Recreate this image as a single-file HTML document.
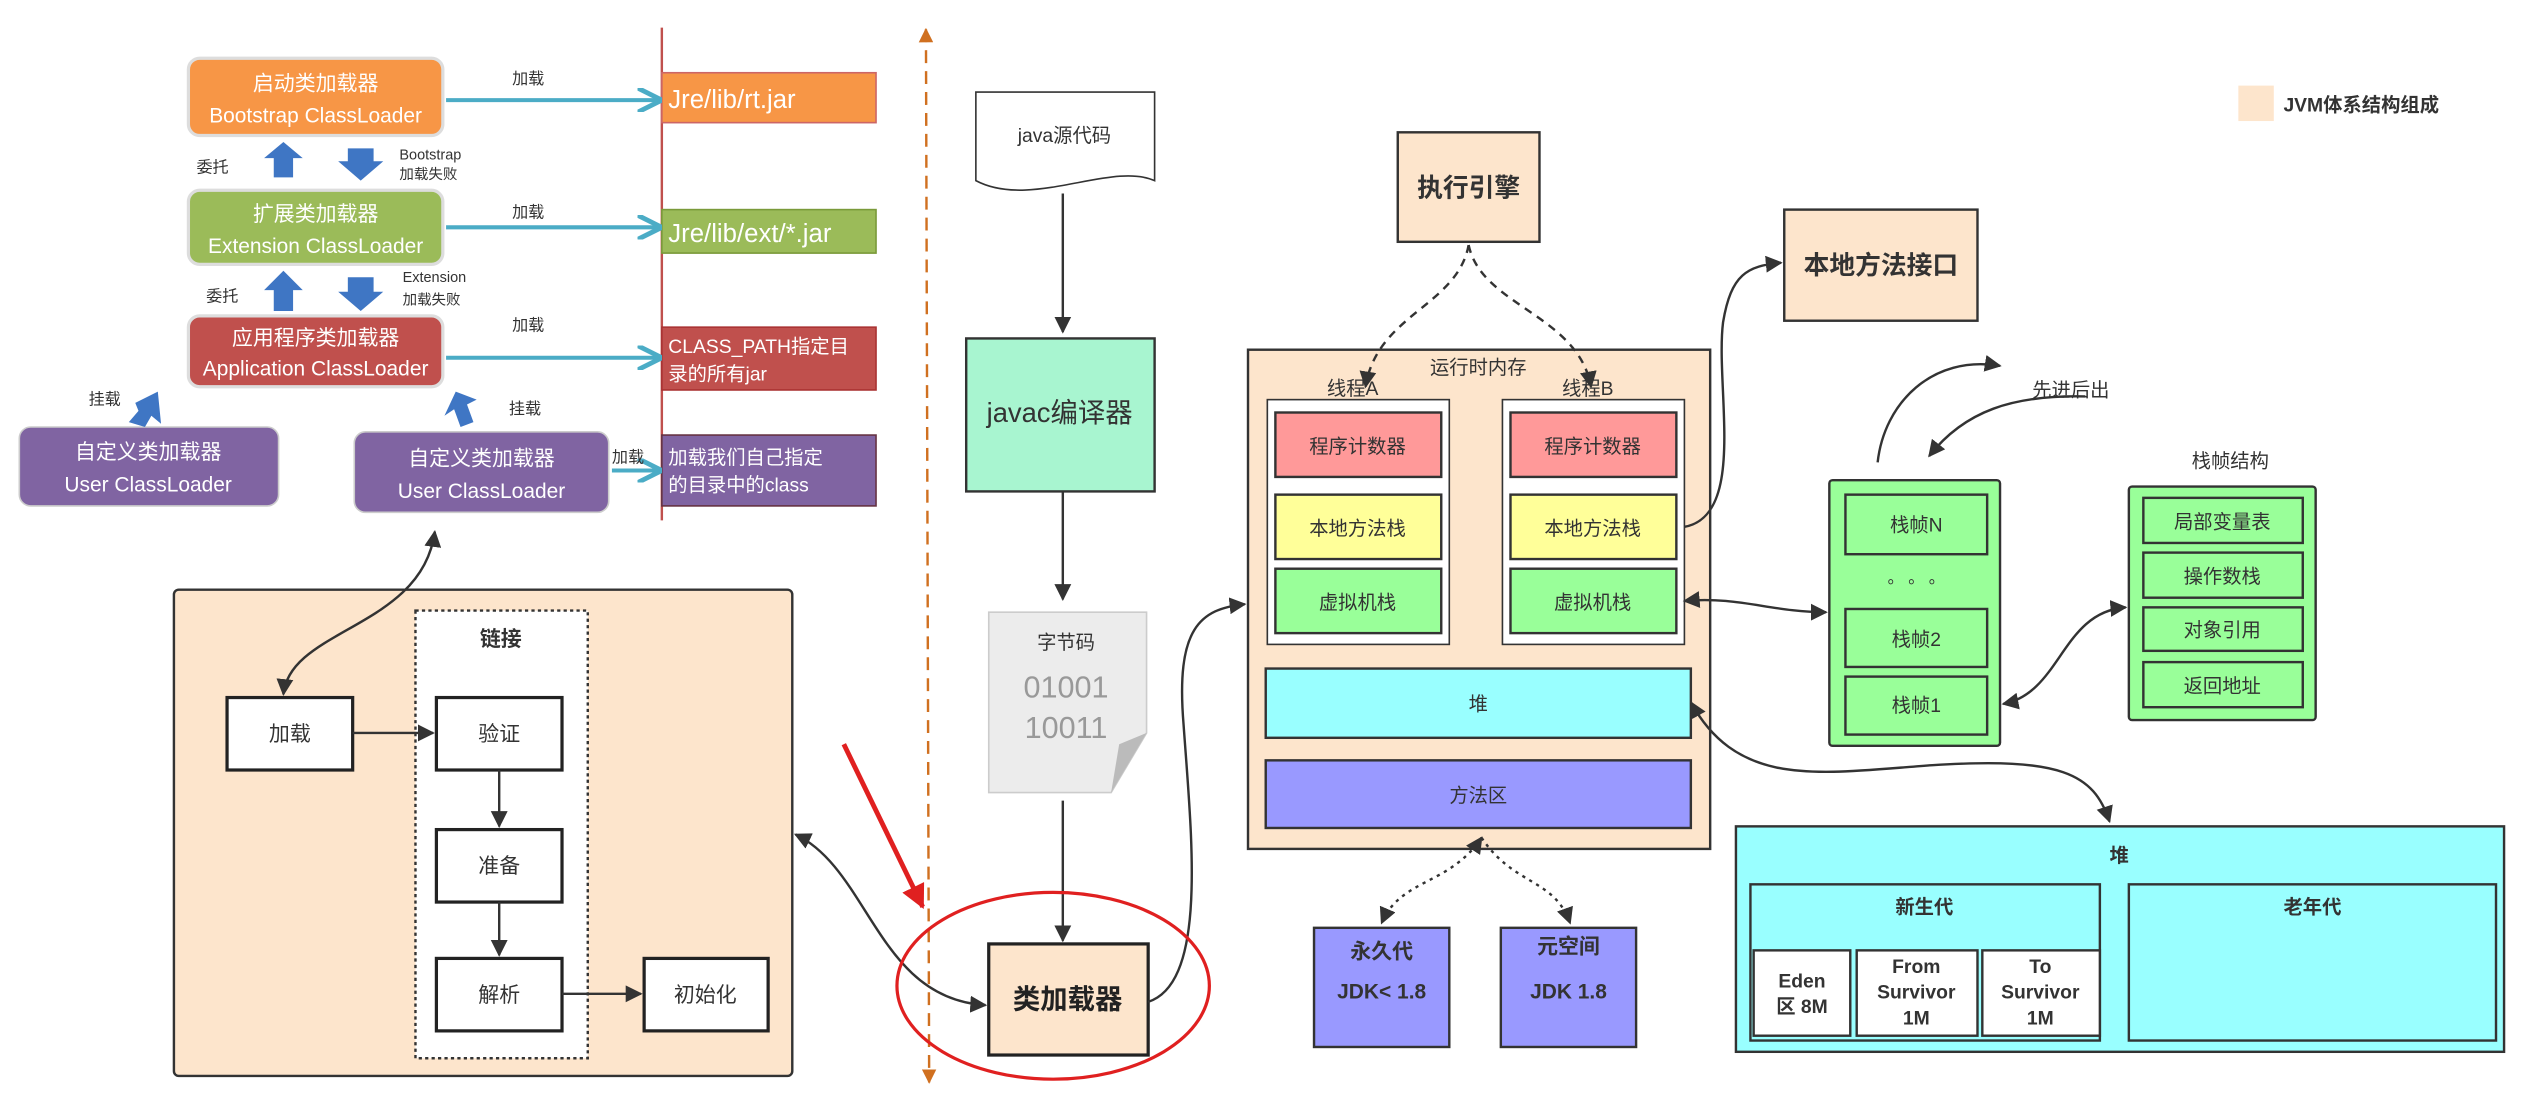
<!DOCTYPE html>
<html><head><meta charset="utf-8"><style>
html,body{margin:0;padding:0;background:#fff;}
svg{display:block;}
text{font-family:"Liberation Sans","Noto Sans CJK SC",sans-serif;}
</style></head><body>
<svg width="2525" height="1102" viewBox="0 0 1568 684" xmlns="http://www.w3.org/2000/svg">
<defs>
<marker id="ar" viewBox="0 0 10 10" refX="9" refY="5" markerWidth="7" markerHeight="7" orient="auto-start-reverse"><path d="M0,0 L10,5 L0,10 z" fill="#333"/></marker>
<marker id="ab" viewBox="0 0 10 10" refX="8" refY="5" markerWidth="6" markerHeight="6" orient="auto"><path d="M0,0 L10,5 L0,10" fill="none" stroke="#4BACC6" stroke-width="2"/></marker>
<marker id="ao" viewBox="0 0 10 10" refX="9" refY="5" markerWidth="6" markerHeight="6" orient="auto-start-reverse"><path d="M0,0 L10,5 L0,10 z" fill="#D07020"/></marker>
<marker id="arr" viewBox="0 0 10 10" refX="9" refY="5" markerWidth="5" markerHeight="5" orient="auto"><path d="M0,0 L10,5 L0,10 z" fill="#E02020"/></marker>
</defs>
<rect width="1568" height="684" fill="#fff"/>

<!-- Top-left classloader -->
<line x1="411" y1="17" x2="411" y2="323" stroke="#C0504D" stroke-width="1.5"/>
<g font-size="13" fill="#fff" text-anchor="middle">
<rect x="117" y="36" width="158" height="48" rx="7" fill="#F79646" stroke="#ddd" stroke-width="2"/>
<text x="196" y="56">启动类加载器</text><text x="196" y="76">Bootstrap ClassLoader</text>
<rect x="117" y="118" width="158" height="46" rx="7" fill="#9BBB59" stroke="#ddd" stroke-width="2"/>
<text x="196" y="137">扩展类加载器</text><text x="196" y="157">Extension ClassLoader</text>
<rect x="117" y="196" width="158" height="44" rx="7" fill="#C0504D" stroke="#ddd" stroke-width="2"/>
<text x="196" y="214">应用程序类加载器</text><text x="196" y="233">Application ClassLoader</text>
<rect x="12" y="265" width="161" height="49" rx="7" fill="#8064A2" stroke="#ccc" stroke-width="1"/>
<text x="92" y="285">自定义类加载器</text><text x="92" y="305">User ClassLoader</text>
<rect x="220" y="268" width="158" height="50" rx="7" fill="#8064A2" stroke="#ccc" stroke-width="1"/>
<text x="299" y="289">自定义类加载器</text><text x="299" y="309">User ClassLoader</text>
</g>
<g font-size="14" fill="#fff">
<rect x="411" y="45" width="133" height="31" fill="#F79646" stroke="#c66" stroke-width="1"/>
<text x="415" y="67" font-size="16">Jre/lib/rt.jar</text>
<rect x="411" y="130" width="133" height="27" fill="#9BBB59" stroke="#7a9a3a"/>
<text x="415" y="150" font-size="16">Jre/lib/ext/*.jar</text>
<rect x="411" y="203" width="133" height="39" fill="#C0504D" stroke="#a33"/>
<text x="415" y="219" font-size="12">CLASS_PATH指定目</text><text x="415" y="236" font-size="12">录的所有jar</text>
<rect x="411" y="270" width="133" height="44" fill="#8064A2" stroke="#634"/>
<text x="415" y="288" font-size="12">加载我们自己指定</text><text x="415" y="305" font-size="12">的目录中的class</text>
</g>
<g stroke="#4BACC6" stroke-width="2.5" fill="none" marker-end="url(#ab)">
<line x1="277" y1="62" x2="408" y2="62"/><line x1="277" y1="141" x2="408" y2="141"/>
<line x1="277" y1="222" x2="408" y2="222"/><line x1="380" y1="292" x2="408" y2="292"/>
</g>
<g font-size="10" fill="#333">
<text x="318" y="52">加载</text><text x="318" y="135">加载</text><text x="318" y="205">加载</text><text x="380" y="287">加载</text>
<text x="122" y="107">委托</text><text x="128" y="187">委托</text>
<text x="248" y="99" font-size="9">Bootstrap</text><text x="248" y="111" font-size="9">加载失败</text>
<text x="250" y="175" font-size="9">Extension</text><text x="250" y="189" font-size="9">加载失败</text>
<text x="55" y="251">挂载</text><text x="316" y="257">挂载</text>
</g>
<g fill="#3F76C4">
<path d="M164,98 L176,88 L188,98 L182,98 L182,110 L170,110 L170,98z"/>
<path d="M216,92 L232,92 L232,100 L238,100 L224,112 L210,100 L216,100z"/>
<path d="M164,180 L176,168 L188,180 L182,180 L182,193 L170,193 L170,180z"/>
<path d="M216,172 L232,172 L232,181 L238,181 L224,193 L210,181 L216,181z"/>
<path d="M84,250 L98,243 L100,263 L94,258 L90,265 L80,262 L86,255z"/>
<path d="M283,243 L296,248 L290,251 L294,262 L286,265 L282,254 L276,258z"/>
</g>

<!-- orange dashed -->
<line x1="575" y1="18" x2="577" y2="672" stroke="#D07020" stroke-width="1.5" stroke-dasharray="8,5" marker-start="url(#ao)" marker-end="url(#ao)"/>

<!-- bottom-left -->
<rect x="108" y="366" width="384" height="302" rx="3" fill="#FDE5CC" stroke="#333" stroke-width="1.5"/>
<rect x="258" y="379" width="107" height="278" fill="#fff" stroke="#333" stroke-width="1.5" stroke-dasharray="2,2"/>
<text x="311" y="401" font-size="13" text-anchor="middle" font-weight="bold" fill="#333">链接</text>
<g fill="#fff" stroke="#222" stroke-width="2">
<rect x="141" y="433" width="78" height="45"/><rect x="271" y="433" width="78" height="45"/>
<rect x="271" y="515" width="78" height="45"/><rect x="271" y="595" width="78" height="45"/>
<rect x="400" y="595" width="77" height="45"/>
</g>
<g font-size="13" fill="#333" text-anchor="middle">
<text x="180" y="460">加载</text><text x="310" y="460">验证</text><text x="310" y="542">准备</text>
<text x="310" y="622">解析</text><text x="438" y="622">初始化</text>
</g>
<g stroke="#333" stroke-width="1.5" fill="none" marker-end="url(#ar)">
<line x1="219" y1="455" x2="269" y2="455"/>
<line x1="310" y1="478" x2="310" y2="513"/>
<line x1="310" y1="560" x2="310" y2="593"/>
<line x1="349" y1="617" x2="398" y2="617"/>
</g>
<path d="M270,330 C262,390 180,390 176,431" stroke="#333" stroke-width="1.5" fill="none" marker-start="url(#ar)" marker-end="url(#ar)"/>

<!-- middle column -->
<path d="M606,57 L717,57 L717,112 C690,100 640,130 606,112 Z" fill="#fff" stroke="#333"/>
<text x="661" y="88" font-size="12" text-anchor="middle" fill="#333">java源代码</text>
<rect x="600" y="210" width="117" height="95" fill="#A8F5D0" stroke="#333" stroke-width="1.5"/>
<text x="658" y="262" font-size="17" text-anchor="middle" fill="#333">javac编译器</text>
<path d="M614,380 L712,380 L712,455 L690,492 L614,492 Z" fill="#ececec" stroke="#ccc"/>
<path d="M712,455 L690,492 L695,462 Z" fill="#bbb"/>
<text x="662" y="403" font-size="12" text-anchor="middle" fill="#333">字节码</text>
<text x="662" y="433" font-size="19" text-anchor="middle" fill="#999" font-family="Liberation Mono">01001</text>
<text x="662" y="458" font-size="19" text-anchor="middle" fill="#999" font-family="Liberation Mono">10011</text>
<rect x="614" y="586" width="99" height="69" fill="#FDE5CC" stroke="#222" stroke-width="2"/>
<text x="663" y="626" font-size="17" text-anchor="middle" font-weight="bold" fill="#222">类加载器</text>
<g stroke="#333" stroke-width="1.5" fill="none" marker-end="url(#ar)">
<line x1="660" y1="120" x2="660" y2="206"/><line x1="660" y1="305" x2="660" y2="372"/>
<line x1="660" y1="497" x2="660" y2="584"/>
<path d="M713,622 C750,610 740,520 735,450 C730,390 745,378 773,375"/>
</g>
<path d="M494,518 C540,540 545,620 612,624" stroke="#333" stroke-width="1.5" fill="none" marker-start="url(#ar)" marker-end="url(#ar)"/>
<ellipse cx="654" cy="612" rx="97" ry="58" fill="none" stroke="#E02020" stroke-width="2"/>
<line x1="524" y1="462" x2="573" y2="563" stroke="#E02020" stroke-width="3" marker-end="url(#arr)"/>

<!-- right -->
<rect x="1390" y="53" width="22" height="22" fill="#FDE5CC"/>
<text x="1418" y="69" font-size="12" font-weight="bold" fill="#333">JVM体系结构组成</text>
<rect x="868" y="82" width="88" height="68" fill="#FDE5CC" stroke="#333" stroke-width="1.5"/>
<text x="912" y="122" font-size="16" font-weight="bold" text-anchor="middle" fill="#333">执行引擎</text>
<rect x="1108" y="130" width="120" height="69" fill="#FDE5CC" stroke="#333" stroke-width="1.5"/>
<text x="1168" y="170" font-size="16" font-weight="bold" text-anchor="middle" fill="#333">本地方法接口</text>

<rect x="775" y="217" width="287" height="310" fill="#FDE5CC" stroke="#333" stroke-width="1.5"/>
<text x="918" y="232" font-size="12" text-anchor="middle" fill="#333">运行时内存</text>
<text x="824" y="245" font-size="12" fill="#333">线程A</text><text x="970" y="245" font-size="12" fill="#333">线程B</text>
<rect x="787" y="248" width="113" height="152" fill="#fff" stroke="#333"/>
<rect x="933" y="248" width="113" height="152" fill="#fff" stroke="#333"/>
<g stroke="#333" stroke-width="1.5">
<rect x="792" y="256" width="103" height="40" fill="#FF9999"/><rect x="938" y="256" width="103" height="40" fill="#FF9999"/>
<rect x="792" y="307" width="103" height="40" fill="#FFFF99"/><rect x="938" y="307" width="103" height="40" fill="#FFFF99"/>
<rect x="792" y="353" width="103" height="40" fill="#99FF99"/><rect x="938" y="353" width="103" height="40" fill="#99FF99"/>
<rect x="786" y="415" width="264" height="43" fill="#99FFFF"/>
<rect x="786" y="472" width="264" height="42" fill="#9999FF"/>
<rect x="816" y="576" width="84" height="74" fill="#9999FF"/>
<rect x="932" y="576" width="84" height="74" fill="#9999FF"/>
</g>
<g font-size="12" text-anchor="middle" fill="#333">
<text x="843" y="281">程序计数器</text><text x="989" y="281">程序计数器</text>
<text x="843" y="332">本地方法栈</text><text x="989" y="332">本地方法栈</text>
<text x="843" y="378">虚拟机栈</text><text x="989" y="378">虚拟机栈</text>
<text x="918" y="441">堆</text><text x="918" y="498">方法区</text>
</g>
<g font-size="13" font-weight="bold" text-anchor="middle" fill="#333">
<text x="858" y="595">永久代</text><text x="858" y="620">JDK&lt; 1.8</text>
<text x="974" y="592">元空间</text><text x="974" y="620">JDK 1.8</text>
</g>
<g stroke="#333" stroke-width="1.5" fill="none">
<path d="M912,152 C905,190 855,195 848,240" stroke-dasharray="5,4" marker-end="url(#ar)"/>
<path d="M912,152 C920,190 980,195 988,240" stroke-dasharray="5,4" marker-end="url(#ar)"/>
<path d="M920,520 C900,550 870,545 858,573" stroke-dasharray="2,3" marker-start="url(#ar)" marker-end="url(#ar)"/>
<path d="M920,520 C940,550 965,545 975,573" stroke-dasharray="2,3" marker-end="url(#ar)"/>
<path d="M1046,327 C1085,320 1065,240 1070,200 C1075,170 1085,165 1106,163" marker-end="url(#ar)"/>
<path d="M1046,373 C1080,370 1100,380 1134,380" marker-start="url(#ar)" marker-end="url(#ar)"/>
<path d="M1050,436 C1080,490 1130,480 1200,475 C1280,470 1300,480 1310,510" marker-start="url(#ar)" marker-end="url(#ar)"/>
<path d="M1166,287 C1170,250 1200,220 1242,227" marker-end="url(#ar)"/>
<path d="M1295,246 C1250,245 1220,255 1198,283" marker-end="url(#ar)"/>
<path d="M1244,437 C1280,430 1280,380 1320,377" marker-start="url(#ar)" marker-end="url(#ar)"/>
</g>
<text x="1262" y="246" font-size="12" fill="#333">先进后出</text>
<text x="1385" y="290" font-size="12" text-anchor="middle" fill="#333">栈帧结构</text>

<rect x="1136" y="298" width="106" height="165" rx="2" fill="#99FF99" stroke="#333" stroke-width="1.5"/>
<g stroke="#333" stroke-width="1.5" fill="#99FF99">
<rect x="1146" y="307" width="88" height="37"/><rect x="1146" y="378" width="88" height="36"/><rect x="1146" y="420" width="88" height="36"/>
</g>
<g font-size="12" text-anchor="middle" fill="#333">
<text x="1190" y="330">栈帧N</text><text x="1190" y="362" font-size="10">。 。 。</text>
<text x="1190" y="401">栈帧2</text><text x="1190" y="442">栈帧1</text>
</g>
<rect x="1322" y="302" width="116" height="145" rx="2" fill="#99FF99" stroke="#333" stroke-width="1.5"/>
<g stroke="#333" stroke-width="1.5" fill="#99FF99">
<rect x="1331" y="309" width="99" height="28"/><rect x="1331" y="343" width="99" height="28"/>
<rect x="1331" y="377" width="99" height="27"/><rect x="1331" y="411" width="99" height="28"/>
</g>
<g font-size="12" text-anchor="middle" fill="#333">
<text x="1380" y="328">局部变量表</text><text x="1380" y="362">操作数栈</text>
<text x="1380" y="395">对象引用</text><text x="1380" y="430">返回地址</text>
</g>

<rect x="1078" y="513" width="477" height="140" fill="#99FFFF" stroke="#333" stroke-width="1.5"/>
<text x="1316" y="535" font-size="12" font-weight="bold" text-anchor="middle" fill="#333">堆</text>
<g stroke="#333" stroke-width="1.5">
<rect x="1087" y="549" width="217" height="97" fill="#99FFFF"/>
<rect x="1322" y="549" width="228" height="97" fill="#99FFFF"/>
<rect x="1089" y="590" width="60" height="53" fill="#fff"/>
<rect x="1153" y="590" width="75" height="53" fill="#fff"/>
<rect x="1231" y="590" width="73" height="53" fill="#fff"/>
</g>
<g font-size="12" font-weight="bold" text-anchor="middle" fill="#333">
<text x="1195" y="567">新生代</text><text x="1436" y="567">老年代</text>
<text x="1119" y="613">Eden</text><text x="1119" y="629">区 8M</text>
<text x="1190" y="604">From</text><text x="1190" y="620">Survivor</text><text x="1190" y="636">1M</text>
<text x="1267" y="604">To</text><text x="1267" y="620">Survivor</text><text x="1267" y="636">1M</text>
</g>
</svg>
</body></html>
